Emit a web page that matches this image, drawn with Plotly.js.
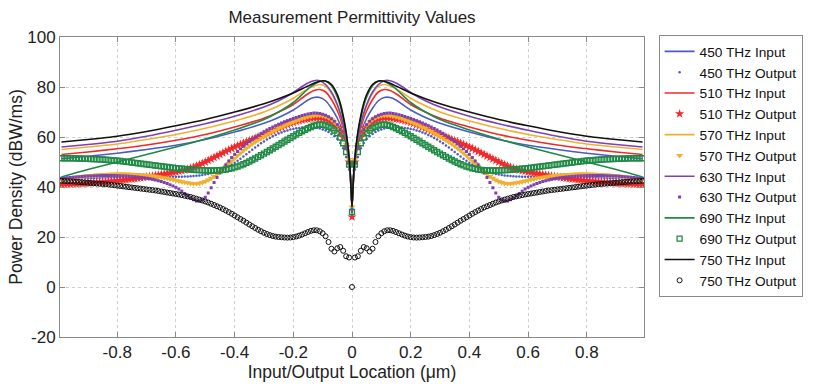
<!DOCTYPE html>
<html><head><meta charset="utf-8">
<script src="https://cdn.plot.ly/plotly-3.0.1.min.js"></script>
<style>html,body{margin:0;padding:0;background:#fff}#chart{width:815px;height:384px}</style>
</head><body><div id="chart"></div>
<script>
// ---- data ----
const xIn = [-0.99,-0.9,-0.8,-0.7,-0.6,-0.5,-0.4,-0.3,-0.25,-0.2,-0.17,-0.15,-0.13,-0.11,-0.09,-0.07,-0.05,-0.04,-0.03,-0.02,-0.01,-0.005,0,
  0.005,0.01,0.02,0.03,0.04,0.05,0.07,0.09,0.11,0.13,0.15,0.17,0.2,0.25,0.3,0.4,0.5,0.6,0.7,0.8,0.9,0.99];

const in450 = [51.3,52.3,53.5,55.0,56.7,59.0,62.0,65.5,67.8,70.8,73.2,74.8,75.8,75.8,74.5,71.5,67.5,64.8,61.5,57.0,49.0,42.5,32,
  42.5,49.0,57.0,61.5,64.8,67.5,71.5,74.5,75.8,75.8,74.8,73.2,70.8,67.8,65.5,62.0,59.0,56.7,55.0,53.5,52.3,51.3];
const in510 = [53.0,54.0,55.3,56.8,58.7,61.0,64.0,67.5,70.0,73.0,75.6,77.3,78.6,79.0,78.0,75.0,70.5,67.5,63.5,58.0,49.5,43.0,32,
  43.0,49.5,58.0,63.5,67.5,70.5,75.0,78.0,79.0,78.6,77.3,75.6,73.0,70.0,67.5,64.0,61.0,58.7,56.8,55.3,54.0,53.0];
const in570 = [55.0,56.0,57.2,59.0,61.0,63.5,66.4,70.0,72.5,75.5,77.8,79.2,80.4,81.0,80.3,77.5,72.5,69.0,65.0,59.5,50.5,43.5,32,
  43.5,50.5,59.5,65.0,69.0,72.5,77.5,80.3,81.0,80.4,79.2,77.8,75.5,72.5,70.0,66.4,63.5,61.0,59.0,57.2,56.0,55.0];
const in630 = [56.0,57.0,58.3,60.3,62.7,65.3,68.3,72.0,74.5,77.8,80.2,81.6,82.5,82.5,81.0,78.0,73.0,69.5,65.0,59.5,50.5,43.5,32,
  43.5,50.5,59.5,65.0,69.5,73.0,78.0,81.0,82.5,82.5,81.6,80.2,77.8,74.5,72.0,68.3,65.3,62.7,60.3,58.3,57.0,56.0];
const in690 = [44.0,47.0,50.0,53.0,56.0,59.2,62.8,67.0,70.0,73.8,77.0,79.3,81.0,82.2,82.3,80.5,76.0,72.5,67.5,61.5,51.5,44.0,32,
  44.0,51.5,61.5,67.5,72.5,76.0,80.5,82.3,82.2,81.0,79.3,77.0,73.8,70.0,67.0,62.8,59.2,56.0,53.0,50.0,47.0,44.0];
const in750 = [58.0,59.0,60.3,62.2,64.5,67.0,70.0,73.3,75.3,77.6,79.3,80.4,81.5,82.3,82.4,81.0,77.0,73.5,68.5,62.0,52.0,44.0,32,
  44.0,52.0,62.0,68.5,73.5,77.0,81.0,82.4,82.3,81.5,80.4,79.3,77.6,75.3,73.3,70.0,67.0,64.5,62.2,60.3,59.0,58.0];

const xOut = [
  -0.99,-0.98,-0.97,-0.96,-0.95,-0.94,-0.93,-0.92,-0.91,-0.90,
  -0.89,-0.88,-0.87,-0.86,-0.85,-0.84,-0.83,-0.82,-0.81,-0.80,
  -0.79,-0.78,-0.77,-0.76,-0.75,-0.74,-0.73,-0.72,-0.71,-0.70,
  -0.69,-0.68,-0.67,-0.66,-0.65,-0.64,-0.63,-0.62,-0.61,-0.60,
  -0.59,-0.58,-0.57,-0.56,-0.55,-0.54,-0.53,-0.52,-0.51,-0.50,
  -0.49,-0.48,-0.47,-0.46,-0.45,-0.44,-0.43,-0.42,-0.41,-0.40,
  -0.39,-0.38,-0.37,-0.36,-0.35,-0.34,-0.33,-0.32,-0.31,-0.30,
  -0.29,-0.28,-0.27,-0.26,-0.25,-0.24,-0.23,-0.22,-0.21,-0.20,
  -0.19,-0.18,-0.17,-0.16,-0.15,-0.14,-0.13,-0.12,-0.11,-0.10,
  -0.09,-0.08,-0.07,-0.06,-0.05,-0.04,-0.03,-0.02,-0.01,
  0,
  0.01,0.02,0.03,0.04,0.05,0.06,0.07,0.08,0.09,
  0.10,0.11,0.12,0.13,0.14,0.15,0.16,0.17,0.18,0.19,
  0.20,0.21,0.22,0.23,0.24,0.25,0.26,0.27,0.28,0.29,
  0.30,0.31,0.32,0.33,0.34,0.35,0.36,0.37,0.38,0.39,
  0.40,0.41,0.42,0.43,0.44,0.45,0.46,0.47,0.48,0.49,
  0.50,0.51,0.52,0.53,0.54,0.55,0.56,0.57,0.58,0.59,
  0.60,0.61,0.62,0.63,0.64,0.65,0.66,0.67,0.68,0.69,
  0.70,0.71,0.72,0.73,0.74,0.75,0.76,0.77,0.78,0.79,
  0.80,0.81,0.82,0.83,0.84,0.85,0.86,0.87,0.88,0.89,
  0.90,0.91,0.92,0.93,0.94,0.95,0.96,0.97,0.98,0.99];

const out450 = [
  43.0,43.05,43.1,43.15,43.2,43.25,43.3,43.35,43.4,43.45,
  43.5,43.55,43.6,43.65,43.7,43.75,43.8,43.85,43.9,43.95,
  44.0,44.0,44.0,44.05,44.1,44.1,44.1,44.1,44.1,44.1,
  44.1,44.1,44.1,44.1,44.1,44.1,44.1,44.1,44.1,44.1,
  44.1,44.15,44.2,44.25,44.3,44.4,44.5,44.65,44.8,45.0,
  45.2,45.5,45.8,46.2,46.6,47.1,47.7,48.3,49.0,49.7,
  50.5,51.35,52.2,53.1,54.0,54.9,55.8,56.65,57.5,58.25,
  59.0,59.65,60.3,60.85,61.4,61.85,62.3,62.65,63.0,63.25,
  63.5,63.65,63.8,63.85,63.9,63.85,63.8,63.6,63.4,63.0,
  62.6,62.0,61.2,60.3,59.2,57.6,55.5,52.0,47.0,
  30,
  47.0,52.0,55.5,57.6,59.2,60.3,61.2,62.0,62.6,
  63.0,63.4,63.6,63.8,63.85,63.9,63.85,63.8,63.65,63.5,
  63.25,63.0,62.65,62.3,61.85,61.4,60.85,60.3,59.65,59.0,
  58.25,57.5,56.65,55.8,54.9,54.0,53.1,52.2,51.35,50.5,
  49.7,49.0,48.3,47.7,47.1,46.6,46.2,45.8,45.5,45.2,
  45.0,44.8,44.65,44.5,44.4,44.3,44.25,44.2,44.15,44.1,
  44.1,44.1,44.1,44.1,44.1,44.1,44.1,44.1,44.1,44.1,
  44.1,44.1,44.1,44.1,44.1,44.1,44.05,44.0,44.0,44.0,
  43.95,43.9,43.85,43.8,43.75,43.7,43.65,43.6,43.55,43.5,
  43.45,43.4,43.35,43.3,43.25,43.2,43.15,43.1,43.05,43.0];
const out510 = [
  41.0,41.05,41.1,41.15,41.2,41.25,41.3,41.35,41.4,41.5,
  41.6,41.7,41.8,41.9,42.0,42.1,42.2,42.3,42.4,42.5,
  42.6,42.75,42.9,43.05,43.2,43.35,43.5,43.65,43.8,44.0,
  44.2,44.4,44.6,44.8,45.0,45.2,45.4,45.6,45.8,46.05,
  46.3,46.55,46.8,47.1,47.5,47.9,48.4,48.9,49.4,50.0,
  50.6,51.2,51.8,52.4,53.0,53.6,54.2,54.8,55.4,55.95,
  56.5,57.0,57.5,58.0,58.5,59.0,59.5,60.0,60.5,61.0,
  61.5,62.0,62.5,63.0,63.5,64.0,64.5,64.95,65.4,65.8,
  66.2,66.5,66.8,67.0,67.2,67.4,67.6,67.65,67.6,67.4,
  67.1,66.6,66.0,65.0,63.8,62.0,59.8,56.0,50.0,
  28,
  50.0,56.0,59.8,62.0,63.8,65.0,66.0,66.6,67.1,
  67.4,67.6,67.65,67.6,67.4,67.2,67.0,66.8,66.5,66.2,
  65.8,65.4,64.95,64.5,64.0,63.5,63.0,62.5,62.0,61.5,
  61.0,60.5,60.0,59.5,59.0,58.5,58.0,57.5,57.0,56.5,
  55.95,55.4,54.8,54.2,53.6,53.0,52.4,51.8,51.2,50.6,
  50.0,49.4,48.9,48.4,47.9,47.5,47.1,46.8,46.55,46.3,
  46.05,45.8,45.6,45.4,45.2,45.0,44.8,44.6,44.4,44.2,
  44.0,43.8,43.65,43.5,43.35,43.2,43.05,42.9,42.75,42.6,
  42.5,42.4,42.3,42.2,42.1,42.0,41.9,41.8,41.7,41.6,
  41.5,41.4,41.35,41.3,41.25,41.2,41.15,41.1,41.05,41.0];
const out570 = [
  43.0,43.2,43.4,43.6,43.8,43.95,44.1,44.25,44.4,44.5,
  44.6,44.7,44.8,44.9,45.0,45.05,45.1,45.15,45.2,45.2,
  45.2,45.2,45.2,45.15,45.1,45.05,45.0,44.9,44.8,44.7,
  44.6,44.45,44.3,44.1,43.9,43.7,43.5,43.25,43.0,42.7,
  42.4,42.15,41.9,41.7,41.5,41.4,41.4,41.55,41.8,42.2,
  42.8,43.5,44.3,45.2,46.2,47.2,48.3,49.4,50.5,51.55,
  52.6,53.6,54.6,55.5,56.4,57.2,58.0,58.75,59.5,60.2,
  60.9,61.55,62.2,62.8,63.4,63.95,64.5,65.0,65.5,66.0,
  66.5,66.95,67.4,67.75,68.1,68.35,68.6,68.7,68.7,68.5,
  68.2,67.7,67.0,66.0,64.8,63.0,60.6,57.0,51.0,
  32,
  51.0,57.0,60.6,63.0,64.8,66.0,67.0,67.7,68.2,
  68.5,68.7,68.7,68.6,68.35,68.1,67.75,67.4,66.95,66.5,
  66.0,65.5,65.0,64.5,63.95,63.4,62.8,62.2,61.55,60.9,
  60.2,59.5,58.75,58.0,57.2,56.4,55.5,54.6,53.6,52.6,
  51.55,50.5,49.4,48.3,47.2,46.2,45.2,44.3,43.5,42.8,
  42.2,41.8,41.55,41.4,41.4,41.5,41.7,41.9,42.15,42.4,
  42.7,43.0,43.25,43.5,43.7,43.9,44.1,44.3,44.45,44.6,
  44.7,44.8,44.9,45.0,45.05,45.1,45.15,45.2,45.2,45.2,
  45.2,45.2,45.15,45.1,45.05,45.0,44.9,44.8,44.7,44.6,
  44.5,44.4,44.25,44.1,43.95,43.8,43.6,43.4,43.2,43.0];
const out630 = [
  43.5,43.6,43.7,43.8,43.9,44.0,44.1,44.2,44.3,44.35,
  44.4,44.45,44.5,44.55,44.6,44.6,44.6,44.6,44.6,44.55,
  44.5,44.45,44.4,44.3,44.2,44.1,44.0,43.85,43.7,43.5,
  43.3,43.05,42.8,42.5,42.2,41.8,41.4,40.9,40.4,39.85,
  39.2,38.35,37.4,36.5,35.6,34.9,34.4,34.4,34.8,35.9,
  37.6,39.7,41.8,43.8,45.6,47.3,48.9,50.4,51.8,53.05,
  54.2,55.3,56.3,57.3,58.2,59.05,59.9,60.65,61.4,62.1,
  62.8,63.4,64.0,64.55,65.1,65.6,66.1,66.55,67.0,67.4,
  67.8,68.2,68.6,68.9,69.2,69.4,69.6,69.55,69.4,69.1,
  68.7,68.1,67.3,66.3,64.9,63.0,60.4,56.0,50.0,
  31,
  50.0,56.0,60.4,63.0,64.9,66.3,67.3,68.1,68.7,
  69.1,69.4,69.55,69.6,69.4,69.2,68.9,68.6,68.2,67.8,
  67.4,67.0,66.55,66.1,65.6,65.1,64.55,64.0,63.4,62.8,
  62.1,61.4,60.65,59.9,59.05,58.2,57.3,56.3,55.3,54.2,
  53.05,51.8,50.4,48.9,47.3,45.6,43.8,41.8,39.7,37.6,
  35.9,34.8,34.4,34.4,34.9,35.6,36.5,37.4,38.35,39.2,
  39.85,40.4,40.9,41.4,41.8,42.2,42.5,42.8,43.05,43.3,
  43.5,43.7,43.85,44.0,44.1,44.2,44.3,44.4,44.45,44.5,
  44.55,44.6,44.6,44.6,44.6,44.6,44.55,44.5,44.45,44.4,
  44.35,44.3,44.2,44.1,44.0,43.9,43.8,43.7,43.6,43.5];
const out690 = [
  51.5,51.5,51.5,51.5,51.5,51.45,51.4,51.35,51.3,51.25,
  51.2,51.15,51.1,51.05,51.0,50.9,50.8,50.7,50.6,50.5,
  50.4,50.25,50.1,49.95,49.8,49.65,49.5,49.35,49.2,49.05,
  48.9,48.75,48.6,48.45,48.3,48.15,48.0,47.85,47.7,47.55,
  47.4,47.3,47.2,47.1,47.0,46.9,46.8,46.75,46.7,46.65,
  46.6,46.6,46.6,46.65,46.7,46.85,47.0,47.25,47.5,47.85,
  48.2,48.65,49.1,49.65,50.2,50.8,51.4,52.05,52.7,53.35,
  54.0,54.7,55.4,56.1,56.8,57.5,58.2,58.9,59.6,60.3,
  61.0,61.65,62.3,62.9,63.5,64.0,64.5,64.8,65.0,64.9,
  64.6,64.1,63.5,62.6,61.5,59.8,57.5,54.0,49.0,
  30,
  49.0,54.0,57.5,59.8,61.5,62.6,63.5,64.1,64.6,
  64.9,65.0,64.8,64.5,64.0,63.5,62.9,62.3,61.65,61.0,
  60.3,59.6,58.9,58.2,57.5,56.8,56.1,55.4,54.7,54.0,
  53.35,52.7,52.05,51.4,50.8,50.2,49.65,49.1,48.65,48.2,
  47.85,47.5,47.25,47.0,46.85,46.7,46.65,46.6,46.6,46.6,
  46.65,46.7,46.75,46.8,46.9,47.0,47.1,47.2,47.3,47.4,
  47.55,47.7,47.85,48.0,48.15,48.3,48.45,48.6,48.75,48.9,
  49.05,49.2,49.35,49.5,49.65,49.8,49.95,50.1,50.25,50.4,
  50.5,50.6,50.7,50.8,50.9,51.0,51.05,51.1,51.15,51.2,
  51.25,51.3,51.35,51.4,51.45,51.5,51.5,51.5,51.5,51.5];
const out750 = [
  42.5,42.4,42.3,42.25,42.2,42.1,42.0,41.9,41.8,41.7,
  41.6,41.5,41.4,41.3,41.2,41.1,41.0,40.85,40.7,40.55,
  40.4,40.25,40.1,39.95,39.8,39.65,39.5,39.35,39.2,39.05,
  38.9,38.75,38.6,38.4,38.2,38.0,37.8,37.6,37.4,37.2,
  37.0,36.75,36.5,36.25,36.0,35.65,35.3,34.95,34.6,34.2,
  33.8,33.3,32.8,32.3,31.8,31.2,30.6,29.95,29.3,28.6,
  27.9,27.2,26.5,25.75,25.0,24.3,23.6,22.9,22.3,21.7,
  21.2,20.75,20.4,20.15,20.0,19.9,19.8,19.75,19.8,19.95,
  20.2,20.55,21.0,21.5,22.0,22.45,22.7,22.7,22.3,21.5,
  20.3,18.0,15.3,14.2,15.5,16.0,14.5,12.3,11.8,
  0,
  11.8,12.3,14.5,16.0,15.5,14.2,15.3,18.0,20.3,
  21.5,22.3,22.7,22.7,22.45,22.0,21.5,21.0,20.55,20.2,
  19.95,19.8,19.75,19.8,19.9,20.0,20.15,20.4,20.75,21.2,
  21.7,22.3,22.9,23.6,24.3,25.0,25.75,26.5,27.2,27.9,
  28.6,29.3,29.95,30.6,31.2,31.8,32.3,32.8,33.3,33.8,
  34.2,34.6,34.95,35.3,35.65,36.0,36.25,36.5,36.75,37.0,
  37.2,37.4,37.6,37.8,38.0,38.2,38.4,38.6,38.75,38.9,
  39.05,39.2,39.35,39.5,39.65,39.8,39.95,40.1,40.25,40.4,
  40.55,40.7,40.85,41.0,41.1,41.2,41.3,41.4,41.5,41.6,
  41.7,41.8,41.9,42.0,42.1,42.2,42.25,42.3,42.4,42.5];

const frequencies = ['450 THz','510 THz','570 THz','630 THz','690 THz','750 THz'];
const inputSeries = [in450, in510, in570, in630, in690, in750];
const outputSeries = [out450, out510, out570, out630, out690, out750];
const xTickVals = [-0.8,-0.6,-0.4,-0.2,0,0.2,0.4,0.6,0.8];
const xTickText = ['-0.8','-0.6','-0.4','-0.2','0','0.2','0.4','0.6','0.8'];
const yTickVals = [-20,0,20,40,60,80,100];
const yTickText = ['-20','0','20','40','60','80','100'];

// ---- styles ----
const colors = ['#4a5cc4','#f22a2a','#f0b030','#8040b0','#1f8a45','#111111'];
const outMarkers = [
  {symbol:'circle', size:2.5},
  {symbol:'star', size:7},
  {symbol:'triangle-down', size:6},
  {symbol:'square', size:3},
  {symbol:'square-open', size:5, line:{width:1.3}},
  {symbol:'circle-open', size:5, line:{width:1}}
];

const traces = [];
frequencies.forEach((f, i) => {
  traces.push({
    x: xIn, y: inputSeries[i], type:'scatter', mode:'lines',
    name: f + ' Input',
    line:{color:colors[i], width:1.6, shape:'spline', smoothing:0.6}
  });
  const m = Object.assign({color:colors[i]}, outMarkers[i]);
  if (m.line) m.line = Object.assign({color:colors[i]}, m.line);
  traces.push({
    x: xOut, y: outputSeries[i], type:'scatter', mode:'markers',
    name: f + ' Output',
    marker: m
  });
});

const font = 'Liberation Sans, Arial, Helvetica, sans-serif';
const layout = {
  width:815, height:384,
  margin:{l:60, r:168, t:37, b:47},
  paper_bgcolor:'#fff', plot_bgcolor:'#fff',
  font:{family:font, size:17, color:'#222'},
  title:{text:'Measurement Permittivity Values', font:{family:font, size:17, color:'#222'},
         x:0.5, xref:'paper', xanchor:'center', y:0.956, yref:'container', yanchor:'middle'},
  xaxis:{
    range:[-0.995, 0.995], tickmode:'array', tickvals:xTickVals, ticktext:xTickText,
    showline:true, linecolor:'#8a8a8a', linewidth:1, mirror:'ticks',
    ticks:'inside', ticklen:5, tickcolor:'#8a8a8a',
    showgrid:true, gridcolor:'#cfcfcf', griddash:'dot', gridwidth:1, zeroline:false,
    tickfont:{size:17}, title:{text:'Input/Output Location (μm)', font:{size:17.5}, standoff:0}
  },
  yaxis:{
    range:[-20, 100], tickmode:'array', tickvals:yTickVals, ticktext:yTickText,
    showline:true, linecolor:'#8a8a8a', linewidth:1, mirror:'ticks',
    ticks:'inside', ticklen:5, tickcolor:'#8a8a8a',
    showgrid:true, gridcolor:'#cfcfcf', griddash:'dot', gridwidth:1, zeroline:false,
    tickfont:{size:17}, title:{text:'Power Density (dBW/ms)', font:{size:17.5}, standoff:0}
  },
  showlegend:true,
  legend:{x:1.025, xanchor:'left', y:1.0067, yanchor:'top', xref:'paper', yref:'paper',
    bgcolor:'#fff', bordercolor:'#8a8a8a', borderwidth:1, maxheight:1,
    font:{size:13.7, color:'#111'}, traceorder:'normal', itemwidth:30}
};

Plotly.newPlot('chart', traces, layout, {displayModeBar:false, staticPlot:true});
</script>
</body></html>
